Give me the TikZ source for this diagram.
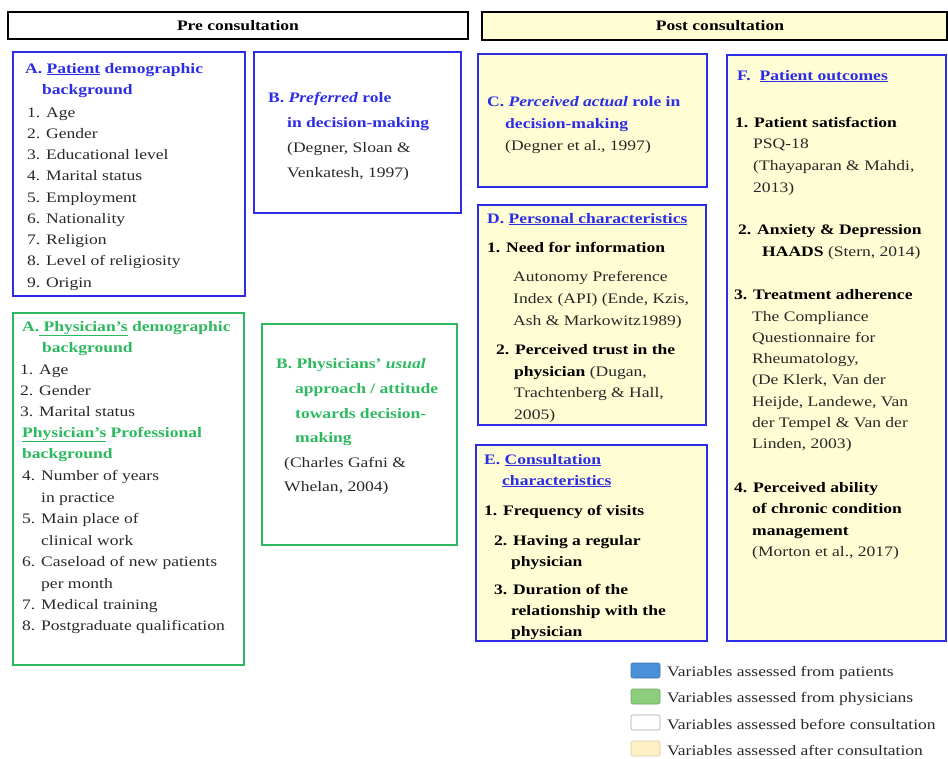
\documentclass[tikz,border=0pt]{standalone}
\usepackage{fontspec}
\setmainfont{Liberation Serif}[FakeStretch=1.21]
\definecolor{boxblue}{RGB}{45,45,230}
\definecolor{boxgreen}{RGB}{45,185,95}
\definecolor{bodygray}{RGB}{40,40,40}
\definecolor{postfill}{RGB}{255,253,212}
\definecolor{legblue}{RGB}{74,144,217}
\definecolor{leggreen}{RGB}{140,206,124}
\definecolor{legyellow}{RGB}{255,240,196}

\tikzset{
  txt/.style={anchor=base west, inner sep=0pt, text=bodygray,
    font=\fontsize{14.5}{17}\selectfont},
  btxt/.style={txt, text=black, font=\fontsize{14.5}{17}\selectfont\bfseries},
  ptitle/.style={txt, text=boxblue, font=\fontsize{14.5}{17}\selectfont\bfseries},
  dtitle/.style={txt, text=boxgreen, font=\fontsize{14.5}{17}\selectfont\bfseries},
  pbox/.style={draw=boxblue, line width=1.8pt},
  dbox/.style={draw=boxgreen, line width=1.8pt},
  swatch/.style={rounded corners=2pt, line width=0.6pt}
}

\begin{document}
\begin{tikzpicture}[x=1pt, y=-1pt]
        \useasboundingbox (0,0) rectangle (948,758);

        % headers
        \draw[line width=2pt, fill=white] (8,12) rectangle (468,39);
        \node[font=\fontsize{14.5}{17}\selectfont\bfseries] (pre) at (238,25.5) {Pre consultation};
        \draw[line width=2pt, fill=postfill] (482,12) rectangle (947,40);
        \node[font=\fontsize{14.5}{17}\selectfont\bfseries] (post) at (720,26) {Post consultation};

        % A. patient
        \draw[pbox] (13,52) rectangle (245,296);
        \node[ptitle] (pa) at (25,73) {A. \underline{Patient} demographic};
        \node[ptitle] (pab) at (42,94) {background};
        \foreach \t [count=\i] in {Age, Gender, Educational level, Marital status,
            Employment, Nationality, Religion, Level of religiosity, Origin}
            \node[txt] (pa\i) at (27,{117+21.25*(\i-1)}) {\i. \t};

        % B. preferred role
        \draw[pbox] (254,52) rectangle (461,213);
        \node[ptitle] (pb) at (268,102) {B. \textit{Preferred} role};
        \node[ptitle] (pb2) at (287,127) {in decision-making};
        \node[txt] (pb3) at (287,152) {(Degner, Sloan \&};
        \node[txt] (pb4) at (287,177) {Venkatesh, 1997)};

        % A. physician
        \draw[dbox] (13,313) rectangle (244,665);
        \node[dtitle] (da) at (22,331) {A.\underline{~Physician's} demographic};
        \node[dtitle] (dab) at (42,352) {background};
        \foreach \t [count=\i] in {Age, Gender, Marital status}
            \node[txt] (da\i) at (20,{374+21*(\i-1)}) {\i. \t};
        \node[dtitle] (dp) at (22,437) {\underline{Physician's} Professional};
        \node[dtitle] (dpb) at (22,458) {background};
        \node[txt] (dp4) at (22,480) {4. Number of years};
        \node[txt] (dp4b) at (41,502) {in practice};
        \node[txt] (dp5) at (22,523) {5. Main place of};
        \node[txt] (dp5b) at (41,545) {clinical work};
        \node[txt] (dp6) at (22,566) {6. Caseload of new patients};
        \node[txt] (dp6b) at (41,588) {per month};
        \node[txt] (dp7) at (22,609) {7. Medical training};
        \node[txt] (dp8) at (22,630) {8. Postgraduate qualification};

        % B. physician approach
        \draw[dbox] (262,324) rectangle (457,545);
        \node[dtitle] (db) at (276,368) {B. Physicians' \textit{usual}};
        \node[dtitle] (db2) at (295,393) {approach / attitude};
        \node[dtitle] (db3) at (295,418) {towards decision-};
        \node[dtitle] (db4) at (295,442) {making};
        \node[txt] (db5) at (284,467) {(Charles Gafni \&};
        \node[txt] (db6) at (284,491) {Whelan, 2004)};

        % C. actual role
        \draw[pbox, fill=postfill] (478,54) rectangle (707,187);
        \node[ptitle] (pc) at (487,106) {C. \textit{Perceived actual} role in};
        \node[ptitle] (pc2) at (505,128) {decision-making};
        \node[txt] (pc3) at (505,150) {(Degner et al., 1997)};

        % D. personal characteristics
        \draw[pbox, fill=postfill] (478,205) rectangle (706,425);
        \node[ptitle] (pd) at (487,223) {D. \underline{Personal characteristics}};
        \node[btxt] (pd1) at (487,252) {1. Need for information};
        \node[txt] (pd1a) at (513,281) {Autonomy Preference};
        \node[txt] (pd1b) at (513,303) {Index (API) (Ende, Kzis,};
        \node[txt] (pd1c) at (513,325) {Ash \& Markowitz1989)};
        \node[btxt] (pd2) at (496,354) {2. Perceived trust in the};
        \node[txt] (pd2a) at (514,376) {\textbf{\color{black}physician} (Dugan,};
        \node[txt] (pd2b) at (514,397) {Trachtenberg \& Hall,};
        \node[txt] (pd2c) at (514,419) {2005)};

        % E. consultation characteristics
        \draw[pbox, fill=postfill] (476,445) rectangle (707,641);
        \node[ptitle] (pe) at (484,464) {E. \underline{Consultation}};
        \node[ptitle] (pe2) at (502,485) {\underline{characteristics}};
        \node[btxt] (pe3) at (484,515) {1. Frequency of visits};
        \node[btxt] (pe4) at (494,545) {2. Having a regular};
        \node[btxt] (pe5) at (511,566) {physician};
        \node[btxt] (pe6) at (494,594) {3. Duration of the};
        \node[btxt] (pe7) at (511,615) {relationship with the};
        \node[btxt] (pe8) at (511,636) {physician};

        % F. patient outcomes
        \draw[pbox, fill=postfill] (727,55) rectangle (946,641);
        \node[ptitle] (pf) at (737,80) {F.\hspace{9pt}\underline{Patient outcomes}};
        \node[btxt] (pf1) at (735,127) {1. Patient satisfaction};
        \node[txt] (pf1a) at (753,148) {PSQ-18};
        \node[txt] (pf1b) at (753,170) {(Thayaparan \& Mahdi,};
        \node[txt] (pf1c) at (753,192) {2013)};
        \node[btxt] (pf2) at (738,234) {2. Anxiety \& Depression};
        \node[txt] (pf2a) at (762,256) {\textbf{\color{black}HAADS} (Stern, 2014)};
        \node[btxt] (pf3) at (734,299) {3. Treatment adherence};
        \foreach \t [count=\i] in {The Compliance, Questionnaire for, {Rheumatology,},
            {(De Klerk, Van der}, {Heijde, Landewe, Van}, der Tempel \& Van der, {Linden, 2003)}}
            \node[txt] (pf3\i) at (752,{321+21.3*(\i-1)}) {\t};
        \node[btxt] (pf4) at (734,492) {4. Perceived ability};
        \node[btxt] (pf4a) at (752,513) {of chronic condition};
        \node[btxt] (pf4b) at (752,535) {management};
        \node[txt] (pf4c) at (752,556) {(Morton et al., 2017)};

        % legend
        \draw[swatch, draw=legblue!80!black, fill=legblue] (631,663) rectangle (660,678);
        \draw[swatch, draw=leggreen!80!black, fill=leggreen] (631,689) rectangle (660,704);
        \draw[swatch, draw=gray!70, fill=white] (631,715) rectangle (660,730);
        \draw[swatch, draw=legyellow!85!black, fill=legyellow] (631,741) rectangle (660,756);
        \node[txt] (lg1) at (667,676) {Variables assessed from patients};
        \node[txt] (lg2) at (667,702) {Variables assessed from physicians};
        \node[txt] (lg3) at (667,729) {Variables assessed before consultation};
        \node[txt] (lg4) at (667,755) {Variables assessed after consultation};
    \end{tikzpicture}
\end{document}
